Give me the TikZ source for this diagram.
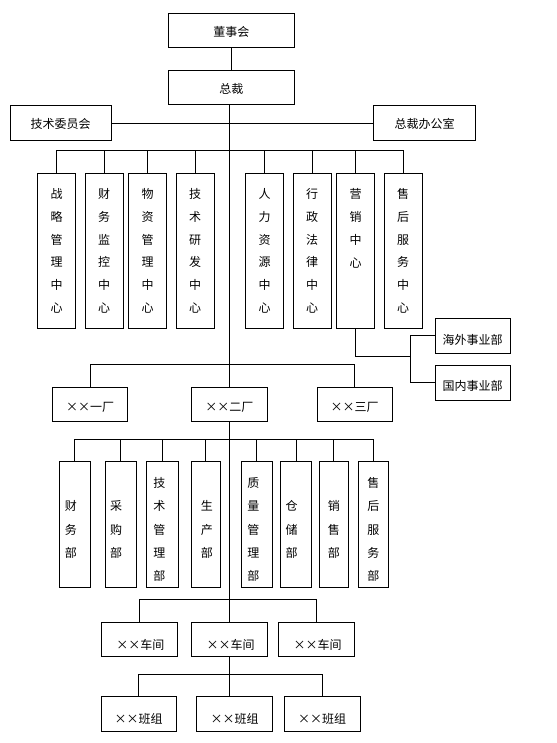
\documentclass[tikz,border=0pt]{standalone}
\usepackage{fontspec}
\newfontfamily\cjk{Noto Sans CJK SC}
\newcommand{\XX}{\makebox[12pt]{×}\makebox[12pt]{×}}
\begin{document}
\begin{tikzpicture}[x=1pt,y=-1pt,line width=0.9pt,
  box/.style={draw=black,rectangle,inner sep=0pt,fill=white},
  bx/.style 2 args={box,minimum width=#1pt,minimum height=#2pt},
  txt/.style={inner sep=0pt,font=\cjk\fontsize{12}{22.8}\selectfont,align=center},
  vtxt/.style={inner sep=0pt,font=\cjk\fontsize{12}{23.1}\selectfont,align=center}]
\useasboundingbox (0,0) rectangle (556,743);

% top level
\node[bx={125.3}{34.4}] (dsh) at (231.3,30.5) {};
\node[txt] (dsht) at ([yshift=-1pt]dsh.center) {董事会};
\node[bx={125.3}{34.4}] (zc) at (231.3,87.2) {};
\node[txt] (zct) at ([yshift=-2pt]zc.center) {总裁};
\node[bx={101}{34.6}] (js) at (60.5,123) {};
\node[txt] (jst) at ([yshift=-1pt]js.center) {技术委员会};
\node[bx={101.6}{34.6}] (zb) at (424.5,123) {};
\node[txt] (zbt) at ([yshift=-1pt]zb.center) {总裁办公室};

% centers
\foreach \n/\x in {c1/56.7,c2/104,c3/147.7,c4/195,c5/264.7,c6/312,c7/355.7,c8/403}
  \node[bx={38}{155}] (\n) at (\x,250.8) {};
\node[txt] (c1t) at (c1.center) {战\\略\\管\\理\\中\\心};
\node[txt] (c2t) at (c2.center) {财\\务\\监\\控\\中\\心};
\node[txt] (c3t) at (c3.center) {物\\资\\管\\理\\中\\心};
\node[txt] (c4t) at (c4.center) {技\\术\\研\\发\\中\\心};
\node[txt] (c5t) at (c5.center) {人\\力\\资\\源\\中\\心};
\node[txt] (c6t) at (c6.center) {行\\政\\法\\律\\中\\心};
\node[txt] (c7t) at (c7.center) {营\\销\\中\\心\\\mbox{}\\\mbox{}};
\node[txt] (c8t) at (c8.center) {售\\后\\服\\务\\中\\心};

\node[bx={74.7}{35}] (hw) at (472.7,335.8) {};
\node[txt] (hwt) at ([yshift=-4pt]hw.center) {海外事业部};
\node[bx={74.7}{35}] (gn) at (472.7,382.5) {};
\node[txt] (gnt) at ([yshift=-3pt]gn.center) {国内事业部};

% factories
\node[bx={75}{34.4}] (f1) at (90.2,404.5) {};
\node[txt] (f1t) at ([yshift=-3pt]f1.center) {\XX 一厂};
\node[bx={75.3}{34.4}] (f2) at (229.3,404.5) {};
\node[txt] (f2t) at ([yshift=-3pt]f2.center) {\XX 二厂};
\node[bx={75.3}{34.4}] (f3) at (354.7,404.5) {};
\node[txt] (f3t) at ([yshift=-3pt]f3.center) {\XX 三厂};

% departments
\node[bx={31.7}{126}] (d1) at (74.85,524.7) {};
\node[bx={31}{126}] (d2) at (120.5,524.7) {};
\node[bx={31.3}{126}] (d3) at (162.35,524.7) {};
\node[bx={29.7}{126}] (d4) at (205.85,524.7) {};
\node[bx={31}{126}] (d5) at (256.8,524.7) {};
\node[bx={31.4}{126}] (d6) at (296,524.7) {};
\node[bx={29.7}{126}] (d7) at (333.85,524.7) {};
\node[bx={29.3}{126}] (d8) at (373.35,524.7) {};
\node[vtxt] (d1t) at ([xshift=-4pt,yshift=-4.8pt]d1.center) {财\\务\\部};
\node[vtxt] (d2t) at ([xshift=-4.5pt,yshift=-4.8pt]d2.center) {采\\购\\部};
\node[vtxt] (d3t) at ([xshift=-3pt,yshift=-4.8pt]d3.center) {技\\术\\管\\理\\部};
\node[vtxt] (d4t) at ([xshift=1pt,yshift=-4.8pt]d4.center) {生\\产\\部};
\node[vtxt] (d5t) at ([xshift=-3.5pt,yshift=-4.8pt]d5.center) {质\\量\\管\\理\\部};
\node[vtxt] (d6t) at ([xshift=-4.3pt,yshift=-4.8pt]d6.center) {仓\\储\\部};
\node[vtxt] (d7t) at ([yshift=-4.8pt]d7.center) {销\\售\\部};
\node[vtxt] (d8t) at ([yshift=-4.8pt]d8.center) {售\\后\\服\\务\\部};

% workshops
\node[bx={75.3}{34.4}] (w1) at (139.35,639.5) {};
\node[bx={75.6}{34.4}] (w2) at (229.5,639.5) {};
\node[bx={75.6}{34.4}] (w3) at (316.5,639.5) {};
\node[txt] (w1t) at ([xshift=1pt,yshift=-5pt]w1.center) {\XX 车间};
\node[txt] (w2t) at ([xshift=1pt,yshift=-5pt]w2.center) {\XX 车间};
\node[txt] (w3t) at ([xshift=1pt,yshift=-5pt]w3.center) {\XX 车间};

% teams
\node[bx={75}{34.3}] (b1) at (138.5,713.8) {};
\node[bx={76}{34.3}] (b2) at (234.7,713.8) {};
\node[bx={75.7}{34.3}] (b3) at (322.2,713.8) {};
\node[txt] (b1t) at ([yshift=-5.5pt]b1.center) {\XX 班组};
\node[txt] (b2t) at ([yshift=-5.5pt]b2.center) {\XX 班组};
\node[txt] (b3t) at ([yshift=-5.5pt]b3.center) {\XX 班组};

% connectors
\draw (dsh.south) -- (zc.north);
\draw (zc.south -| f2.north) -- (f2.north);
\draw (js.east) -- (zb.west);
\coordinate (bus1) at (0,150.3);
\draw (c1.north) -- (c1.north |- bus1) -- (c8.north |- bus1) -- (c8.north);
\foreach \n in {c2,c3,c4,c5,c6,c7} \draw (\n.north) -- (\n.north |- bus1);
\coordinate (jx) at (410,356.7);
\draw (c7.south) -- (c7.south |- jx) -- (jx);
\draw (hw.west) -- (hw.west -| jx) -- (gn.west -| jx) -- (gn.west);
\coordinate (bus2) at (0,364);
\draw (f1.north) -- (f1.north |- bus2) -- (f3.north |- bus2) -- (f3.north);
\coordinate (bus3) at (0,439);
\draw (d1.north) -- (d1.north |- bus3) -- (d8.north |- bus3) -- (d8.north);
\foreach \n in {d2,d3,d4,d5,d6,d7} \draw (\n.north) -- (\n.north |- bus3);
\draw (f2.south) -- (f2.south |- w2.north);
\coordinate (bus4) at (0,599);
\draw (w1.north) -- (w1.north |- bus4) -- (w3.north |- bus4) -- (w3.north);
\coordinate (bus5) at (0,674.3);
\draw (b1.north) -- (b1.north |- bus5) -- (b3.north |- bus5) -- (b3.north);
\draw (w2.south) -- (w2.south |- b2.north);
\end{tikzpicture}
\end{document}
